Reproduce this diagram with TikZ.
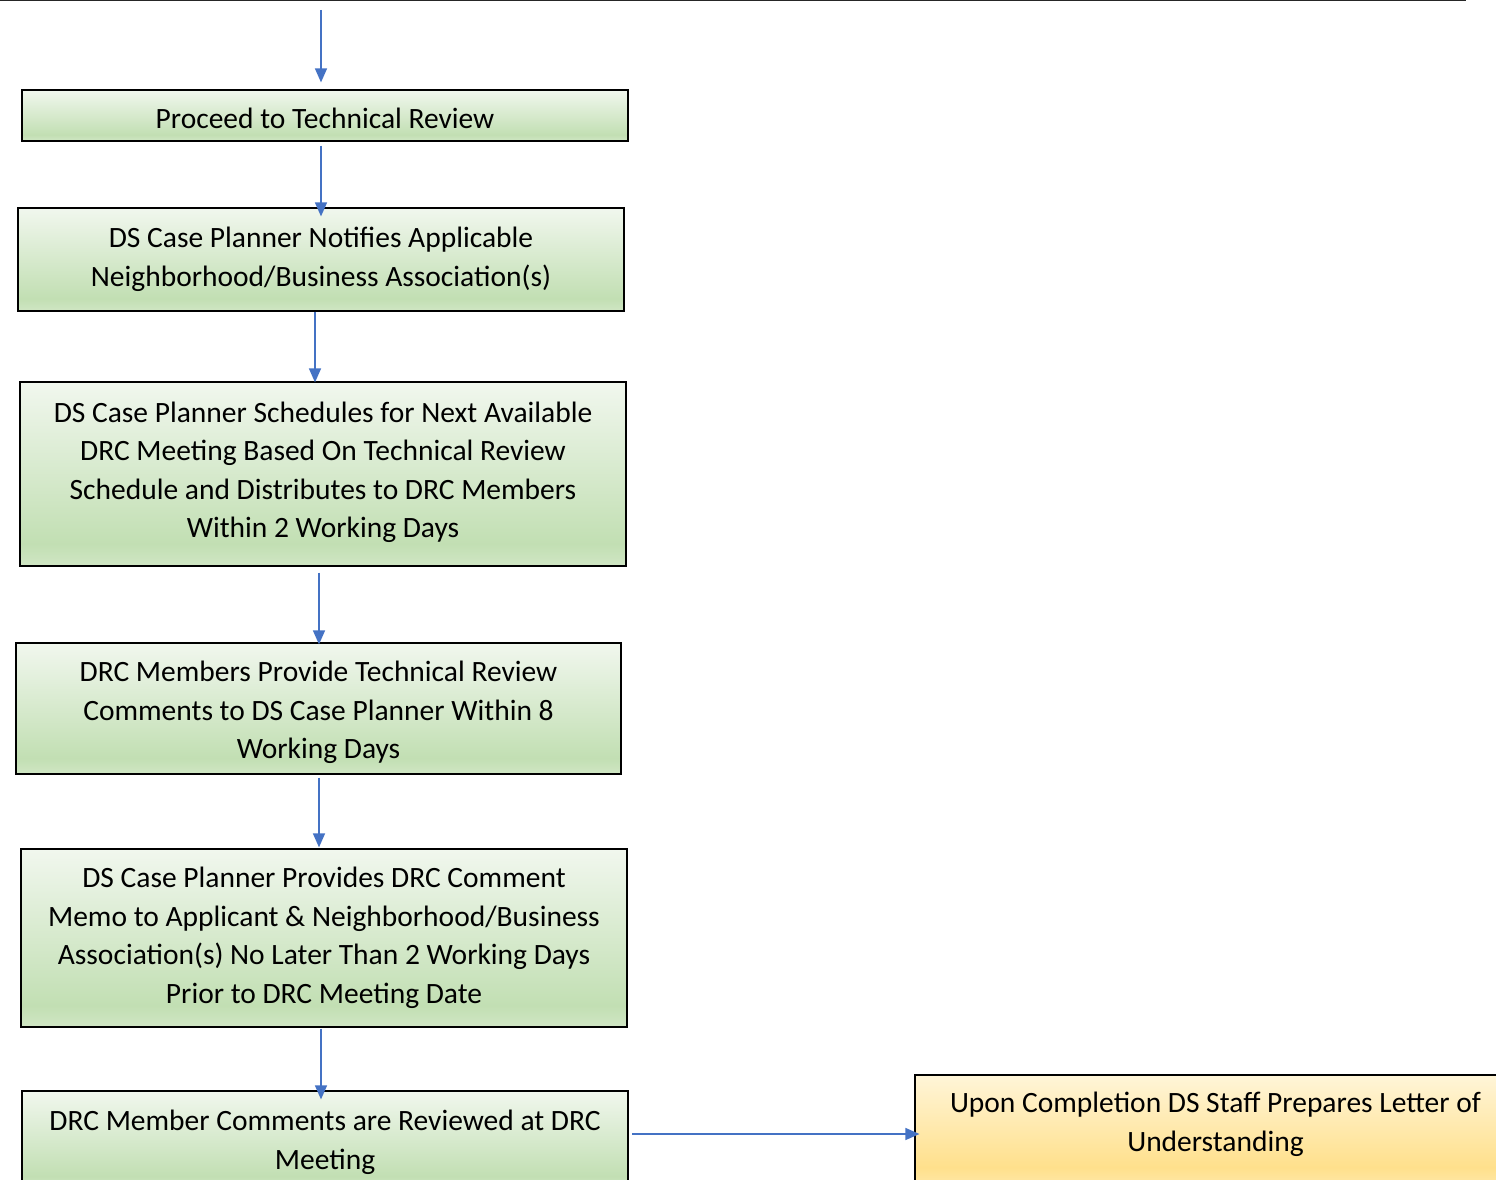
\documentclass[tikz,border=0pt]{standalone}
\usepackage{fontspec}
\setmainfont{Carlito}
\usetikzlibrary{arrows.meta}
\definecolor{gtop}{RGB}{241,247,238}
\definecolor{gmid}{RGB}{194,223,179}
\definecolor{gbotl}{RGB}{208,230,196}
\definecolor{ytop}{RGB}{255,245,216}
\definecolor{ymid}{RGB}{255,224,140}
\definecolor{ybotl}{RGB}{255,232,166}
\definecolor{arrowblue}{RGB}{68,114,196}
\pgfdeclareverticalshading{greenfill}{100bp}{color(0bp)=(gbotl); color(25bp)=(gbotl); color(31bp)=(gmid); color(75bp)=(gtop); color(100bp)=(gtop)}
\pgfdeclareverticalshading{yellowfill}{100bp}{color(0bp)=(ybotl); color(25bp)=(ybotl); color(33bp)=(ymid); color(75bp)=(ytop); color(100bp)=(ytop)}
\tikzset{
  stepbox/.style={draw=black, line width=1.2pt, shading=greenfill, align=center,
    font=\fontsize{29.5}{38.5}\selectfont, inner sep=0pt},
  notebox/.style={stepbox, shading=yellowfill},
  arr/.style={draw=arrowblue, line width=1.4pt, -{Triangle[width=12pt,length=14pt]}}
}
\begin{document}
\begin{tikzpicture}[x=1pt,y=-1pt]
\useasboundingbox (0,0) rectangle (1496,1180);
\clip (0,0) rectangle (1496,1180);
% partially visible box at the top
\node[draw=black!85, line width=2.5pt, fill=white, minimum width=1486pt, minimum height=60pt, inner sep=0pt, anchor=south east] (topbox) at (1466,1.5) {};
\node[stepbox, minimum width=606pt, minimum height=51pt] (box1) at (325,115.5) {\mbox{}\\[-12pt]Proceed to Technical Review};
\node[stepbox, minimum width=606pt, minimum height=103pt] (box2) at (321,259.5) {DS Case Planner Notifies Applicable\\Neighborhood/Business Association(s)};
\node[stepbox, minimum width=606pt, minimum height=184pt] (box3) at (323,474) {DS Case Planner Schedules for Next Available\\DRC Meeting Based On Technical Review\\Schedule and Distributes to DRC Members\\Within 2 Working Days\\[-30pt]\mbox{}};
\node[stepbox, minimum width=605pt, minimum height=131pt] (box4) at (318.5,708.5) {\mbox{}\\[-10pt]DRC Members Provide Technical Review\\Comments to DS Case Planner Within 8\\Working Days};
\node[stepbox, minimum width=606pt, minimum height=178pt] (box5) at (324,938) {DS Case Planner Provides DRC Comment\\Memo to Applicant \& Neighborhood/Business\\Association(s) No Later Than 2 Working Days\\Prior to DRC Meeting Date};
\node[stepbox, minimum width=606pt, minimum height=97pt] (box6) at (325,1139.5) {\mbox{}\\[-12pt]DRC Member Comments are Reviewed at DRC\\Meeting};
\node[notebox, minimum width=601pt, minimum height=110pt] (box7) at (1215.5,1130) {Upon Completion DS Staff Prepares Letter of\\Understanding\\[-22pt]\mbox{}};
% connectors
\coordinate (a1) at (321,10);
\draw[arr, shorten >=7pt] (a1) -- (a1 |- box1.north);
\coordinate (a2) at ([xshift=-4pt,yshift=-4pt]box1.south);
\draw[arr, shorten >=-9pt] (a2) -- (a2 |- box2.north);
\coordinate (a3) at ([xshift=-6pt]box2.south);
\draw[arr, shorten >=-1pt] (a3) -- (a3 |- box3.north);
\coordinate (a4) at ([xshift=-4pt,yshift=-6pt]box3.south);
\draw[arr, shorten >=-2pt] (a4) -- (a4 |- box4.north);
\coordinate (a5) at ([xshift=0.5pt,yshift=-3pt]box4.south);
\draw[arr, shorten >=1pt] (a5) -- (a5 |- box5.north);
\coordinate (a6) at ([xshift=-3pt,yshift=-1pt]box5.south);
\draw[arr, shorten >=-9pt] (a6) -- (a6 |- box6.north);
\coordinate (a7) at (632,1134);
\draw[arr, shorten >=-5pt] (a7) -- (a7 -| box7.west);
\end{tikzpicture}
\end{document}
